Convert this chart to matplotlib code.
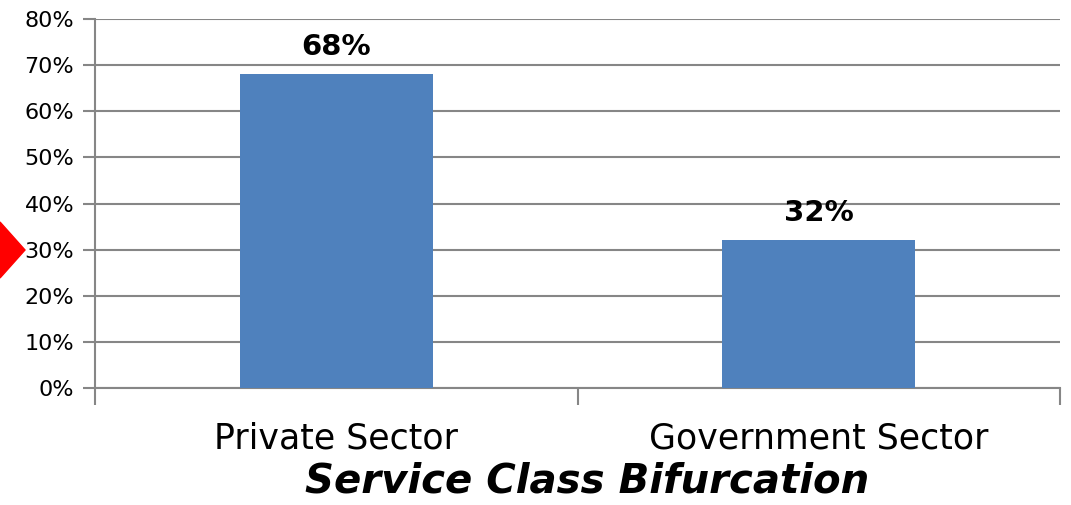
import matplotlib.pyplot as plt
from matplotlib.patches import Polygon
from matplotlib.ticker import PercentFormatter

categories = ["Private Sector", "Government Sector"]
shares = [68, 32]
y_ticks = [0, 10, 20, 30, 40, 50, 60, 70, 80]

fig = plt.figure(figsize=(10.71, 5.05), dpi=100)
W, H = 1071, 505
ax = fig.add_axes([95 / W, (H - 388) / H, (1060 - 95) / W, (388 - 19) / H])

grid_c = "#868686"
x = range(len(categories))
ax.bar(x, shares, width=0.4, color="#4F81BD", zorder=3)

for xi, v in zip(x, shares):
    ax.text(xi, v + 3, f"{v}%", ha="center", va="bottom",
            fontsize=21, fontweight="bold", color="black")

ax.set_xlim(-0.5, len(categories) - 0.5)
ax.set_ylim(0, 80)
ax.set_yticks(y_ticks)
ax.yaxis.set_major_formatter(PercentFormatter(decimals=0))
ax.yaxis.grid(True, color=grid_c, linewidth=1.5, zorder=0)
ax.set_axisbelow(True)

# category ticks between bars like Excel
ax.set_xticks(list(x))
ax.set_xticklabels(categories, fontsize=25)
ax.set_xticks([-0.5, 0.5, 1.5], minor=True)
ax.tick_params(axis="x", which="major", length=0, pad=24)
ax.tick_params(axis="x", which="minor", length=12, width=1.5, color=grid_c)
ax.tick_params(axis="y", length=9, width=1.5, color=grid_c, labelsize=16, pad=6)

for side in ["top", "right"]:
    ax.spines[side].set_visible(False)
for side in ["left", "bottom"]:
    ax.spines[side].set_color(grid_c)
    ax.spines[side].set_linewidth(1.5)

ax.set_xlabel("Service Class Bifurcation", fontsize=29, fontweight="bold",
              fontstyle="italic", labelpad=6)
ax.xaxis.set_label_coords(0.51, -0.2)
ax.xaxis.label.set_va("top")

# red bullet marker at left edge
diamond = Polygon([[0, (H - 222) / H], [25 / W, (H - 250) / H], [0, (H - 278) / H]],
                  closed=True, transform=fig.transFigure, color="red", zorder=10)
fig.patches.append(diamond)

fig.savefig("out.png", dpi=100)
